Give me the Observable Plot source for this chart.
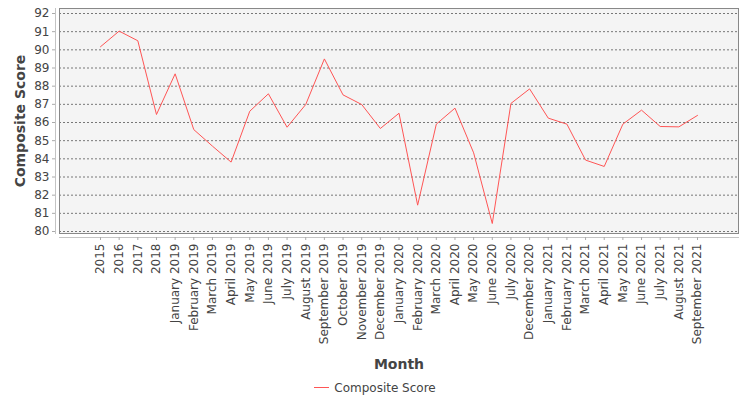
<!DOCTYPE html>
<html>
<head>
<meta charset="utf-8">
<script src="https://cdn.jsdelivr.net/npm/d3@7"></script>
<script src="https://cdn.jsdelivr.net/npm/@observablehq/plot@0.6"></script>
<style>
  body { margin: 0; background: #fff; font-family: "DejaVu Sans", sans-serif; }
  #legend { height: 25px; display: flex; justify-content: center; align-items: center; font-size: 12px; color: #444; }
  #legend .sw { width: 15px; height: 0; border-top: 1px solid #ff5555; margin-right: 5px; }
</style>
</head>
<body>
<div id="chart"></div>
<div id="legend"><span class="sw"></span><span>Composite Score</span></div>
<script>
const months = [
  "2015", "2016", "2017", "2018",
  "January 2019", "February 2019", "March 2019", "April 2019", "May 2019", "June 2019",
  "July 2019", "August 2019", "September 2019", "October 2019", "November 2019", "December 2019",
  "January 2020", "February 2020", "March 2020", "April 2020", "May 2020", "June 2020",
  "July 2020", "December 2020",
  "January 2021", "February 2021", "March 2021", "April 2021", "May 2021", "June 2021",
  "July 2021", "August 2021", "September 2021"
];
const scores = [
  90.17, 91.03, 90.50, 86.44,
  88.68, 85.61, 84.70, 83.82, 86.62, 87.58,
  85.74, 86.99, 89.50, 87.52, 86.99, 85.67,
  86.51, 81.45, 85.91, 86.79, 84.33, 80.44,
  87.05, 87.85,
  86.24, 85.91, 83.93, 83.58, 85.91, 86.68,
  85.78, 85.76, 86.39
];
const yTicks = [80, 81, 82, 83, 84, 85, 86, 87, 88, 89, 90, 91, 92];

const rows = months.map((m, i) => ({month: m, score: scores[i]}));

const chart = Plot.plot({
  width: 750,
  height: 375,
  marginLeft: 59,
  marginRight: 12,
  marginTop: 8,
  marginBottom: 142,
  style: { fontFamily: "DejaVu Sans", fontSize: "12px", color: "#444", background: "#fff" },
  x: { type: "point", domain: months, padding: 0, round: false, insetLeft: 41, insetRight: 41 },
  y: { domain: [80, 92], insetTop: 5, insetBottom: 2 },
  marks: [
    Plot.frame({ fill: "#f4f4f4" }),
    Plot.gridY(yTicks, { stroke: "#777", strokeOpacity: 1, strokeDasharray: "2,2" }),
    Plot.frame({ stroke: "#888" }),
    Plot.frame({ anchor: "left", stroke: "#c4c4c4", dx: -4 }),
    Plot.frame({ anchor: "bottom", stroke: "#c4c4c4", dy: 4 }),
    Plot.axisY(yTicks, { dx: -4, tickSize: 3, tickPadding: 3, stroke: "#aaa", color: "#444", label: null }),
    Plot.axisX({ dy: 4, tickSize: 3, tickPadding: 3, tickRotate: -90, stroke: "#aaa", color: "#444", label: null }),
    Plot.lineY(rows, { x: "month", y: "score", stroke: "#ff5555", strokeWidth: 1 }),
    Plot.text(["Month"], { frameAnchor: "bottom", dy: 135, fontSize: 14, fontWeight: "bold", fill: "#444" }),
    Plot.text(["Composite Score"], { frameAnchor: "left", textAnchor: "middle", dx: -39, rotate: -90, fontSize: 14, fontWeight: "bold", fill: "#444" })
  ]
});
document.getElementById("chart").appendChild(chart);
</script>
</body>
</html>
